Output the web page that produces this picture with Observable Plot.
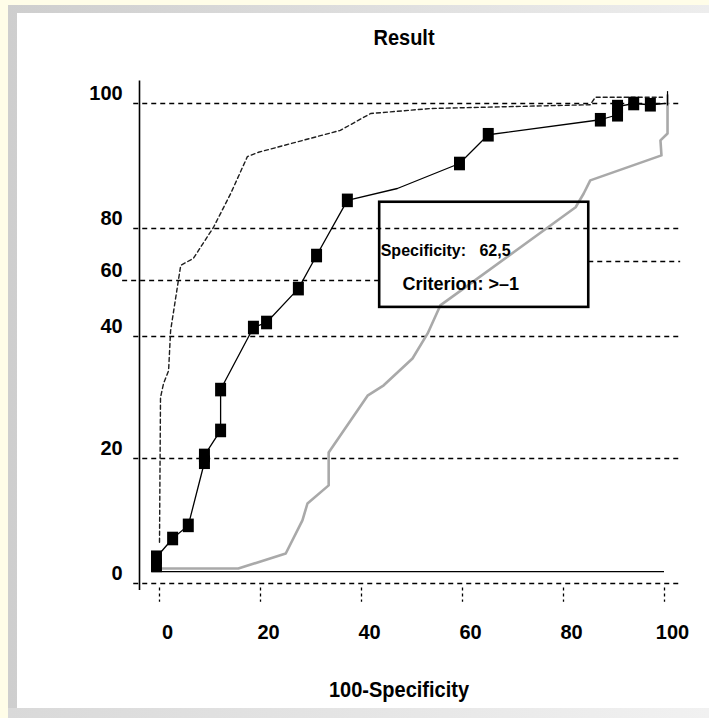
<!DOCTYPE html>
<html>
<head>
<meta charset="utf-8">
<script src="https://cdn.jsdelivr.net/npm/d3@7"></script>
<script src="https://cdn.jsdelivr.net/npm/@observablehq/plot@0.6"></script>
<style>
html, body { margin: 0; padding: 0; width: 709px; height: 718px; overflow: hidden; background: #fffde8; }
#frame { position: absolute; left: 8px; top: 5px; width: 701px; height: 713px; background: linear-gradient(to right, #cecece, #ededed); }
#panel { position: absolute; left: 17px; top: 13px; width: 692px; height: 695px; background: #ffffff; }
#bottom { position: absolute; left: 8px; top: 708px; width: 701px; height: 10px; background: linear-gradient(to right, #d9d9d9, #f1f1f1); }
#chart { position: absolute; left: 0; top: 0; }
.lbl { position: absolute; font-family: "Liberation Sans", Arial, sans-serif; font-weight: bold; font-size: 20px; color: #000; transform: translate(-50%, -50%) scaleY(1.08); white-space: nowrap; }
</style>
</head>
<body>
<div id="frame"></div>
<div id="panel"></div>
<div id="bottom"></div>
<div id="chart"></div>
<div class="lbl" style="left:404px; top:38px;">Result</div>
<div class="lbl" style="left:399px; top:690px;">100-Specificity</div>
<script>
// ---- tick labels ----
const xTicks = [0, 20, 40, 60, 80, 100];
const yTicks = [0, 20, 40, 60, 80, 100];

// ---- ROC curve: markers (100-Specificity, Sensitivity) ----
const markerX = [-0.6, -0.6, 2.6, 5.7, 8.9, 8.9, 12.1, 12.1, 18.6, 21.2, 27.5, 31.1, 37.2, 59.4, 65.1, 87.3, 90.7, 90.7, 93.9, 97.2];
const markerY = [2.9, 4.2, 7.2, 9.3, 19.4, 20.5, 24.6, 31.3, 43.2, 45.0, 57.1, 69.6, 84.5, 90.4, 95.0, 97.4, 98.2, 99.5, 100.0, 99.8];

// ---- ROC curve: connecting line vertices ----
const lineX = [-0.6, -0.6, 2.6, 5.7, 8.9, 8.9, 12.1, 12.1, 18.6, 21.2, 27.5, 31.1, 37.2, 47.1, 59.4, 65.1, 87.3, 90.7, 90.7, 93.9, 97.2, 100.0];
const lineY = [2.9, 4.2, 7.2, 9.3, 19.4, 20.5, 24.6, 31.3, 43.2, 45.0, 57.1, 69.6, 84.5, 86.4, 90.4, 95.0, 97.4, 98.2, 99.5, 100.0, 99.8, 100.0];

// ---- upper confidence bound (dashed) ----
const upperX = [0.0, 0.2, 0.8, 1.8, 2.2, 4.2, 6.7, 10.7, 14.1, 17.4, 19.6, 35.8, 41.8, 53.7, 85.3, 86.3, 99.6];
const upperY = [6.6, 30.0, 32.3, 34.4, 42.1, 65.8, 68.5, 80.2, 85.6, 91.5, 92.2, 95.7, 98.4, 99.2, 99.8, 101.0, 101.0];

// ---- lower confidence bound (grey) ----
const lowerX = [0.2, 15.6, 25.0, 28.3, 29.3, 33.5, 33.5, 41.2, 44.4, 50.1, 53.1, 55.6, 60.2, 82.4, 84.0, 85.3, 99.4, 99.2, 100.6, 100.6];
const lowerY = [2.4, 2.4, 4.8, 10.1, 12.8, 15.7, 21.0, 30.3, 32.0, 36.4, 41.1, 51.1, 57.1, 83.4, 85.6, 87.7, 91.7, 94.1, 95.2, 101.3];

// ---- annotation box ----
const boxX = [43.6, 85.0];
const boxY = [50.4, 84.2];
const boxLines = ["Specificity:\u00a0\u00a0\u00a062,5", "Criterion: >\u20131"];

const markers = markerX.map((x, i) => ({x, y: markerY[i]}));
const rocLine = lineX.map((x, i) => ({x, y: lineY[i]}));
const upper = upperX.map((x, i) => ({x, y: upperY[i]}));
const lower = lowerX.map((x, i) => ({x, y: lowerY[i]}));

const FONT = "Liberation Sans, Arial, sans-serif";
const gridLeft = -5.1, gridRight = 103.2;
const dash = {stroke: "#000", strokeWidth: 1.5, strokeDasharray: "5,4"};

const rectSymbol = {
  draw(ctx) { ctx.rect(-5.5, -6.8, 11, 13.6); }
};

const chart = Plot.plot({
  width: 709,
  height: 718,
  margin: 0,
  style: {background: "transparent", overflow: "visible", fontFamily: FONT},
  x: {type: "linear", domain: [0, 100], range: [159, 664], axis: null},
  y: {type: "linear", domain: yTicks, range: [583, 458, 336, 280, 228, 103], axis: null},
  marks: [
    // dashed grid lines
    Plot.ruleY(yTicks.filter(v => v !== 60), {y: d => d, x1: gridLeft, x2: gridRight, ...dash}),
    Plot.ruleY([60], {y: d => d, x1: -7.3, x2: boxX[0], ...dash}),
    Plot.ruleY([67.3], {y: d => d, x1: boxX[1], x2: gridRight, ...dash}),
    // y axis line
    Plot.ruleX([-3.96], {x: d => d, y1: -1.1, y2: 103.6, stroke: "#000", strokeWidth: 1.6}),
    // x ticks (dashed)
    Plot.ruleX(xTicks, {x: d => d, y1: -0.7, y2: -3.0, stroke: "#000", strokeWidth: 1.3, strokeDasharray: "3,3"}),
    // solid base line
    Plot.ruleY([1.9], {y: d => d, x1: -1.5, x2: 100, stroke: "#000", strokeWidth: 1.4}),
    // lower bound (grey)
    Plot.line(lower, {x: "x", y: "y", stroke: "#a9a9a9", strokeWidth: 2.6}),
    // upper bound (dashed)
    Plot.line(upper, {x: "x", y: "y", stroke: "#1e1e1e", strokeWidth: 1.4, strokeDasharray: "4,3"}),
    // small black end tick
    Plot.ruleX([100.6], {x: d => d, y1: 99.6, y2: 101.9, stroke: "#000", strokeWidth: 1.2}),
    // ROC curve
    Plot.line(rocLine, {x: "x", y: "y", stroke: "#000", strokeWidth: 1.3}),
    Plot.dot(markers, {x: "x", y: "y", symbol: rectSymbol, fill: "#000", stroke: "none", r: 6}),
    // annotation box
    Plot.rect([0], {x1: boxX[0], x2: boxX[1], y1: boxY[0], y2: boxY[1], fill: "none", stroke: "#000", strokeWidth: 2.6}),
    Plot.text([boxLines[0]], {x: 43.8, y: 71.5, text: d => d, textAnchor: "start", fontSize: 16, fontWeight: "bold", fontFamily: FONT, fill: "#000"}),
    Plot.text([boxLines[1]], {x: 48.1, y: 58.6, text: d => d, textAnchor: "start", fontSize: 18, fontWeight: "bold", fontFamily: FONT, fill: "#000"}),
    // y tick labels
    Plot.text(yTicks, {x: -7.3, y: d => d, dy: -10, text: d => String(d), textAnchor: "end", fontSize: 20, fontWeight: "bold", fontFamily: FONT, fill: "#000"}),
    // x tick labels
    Plot.text(xTicks, {x: d => d, y: -7.84, dx: 8, text: d => String(d), fontSize: 20, fontWeight: "bold", fontFamily: FONT, fill: "#000"})
  ]
});

document.getElementById("chart").appendChild(chart);
</script>
</body>
</html>
